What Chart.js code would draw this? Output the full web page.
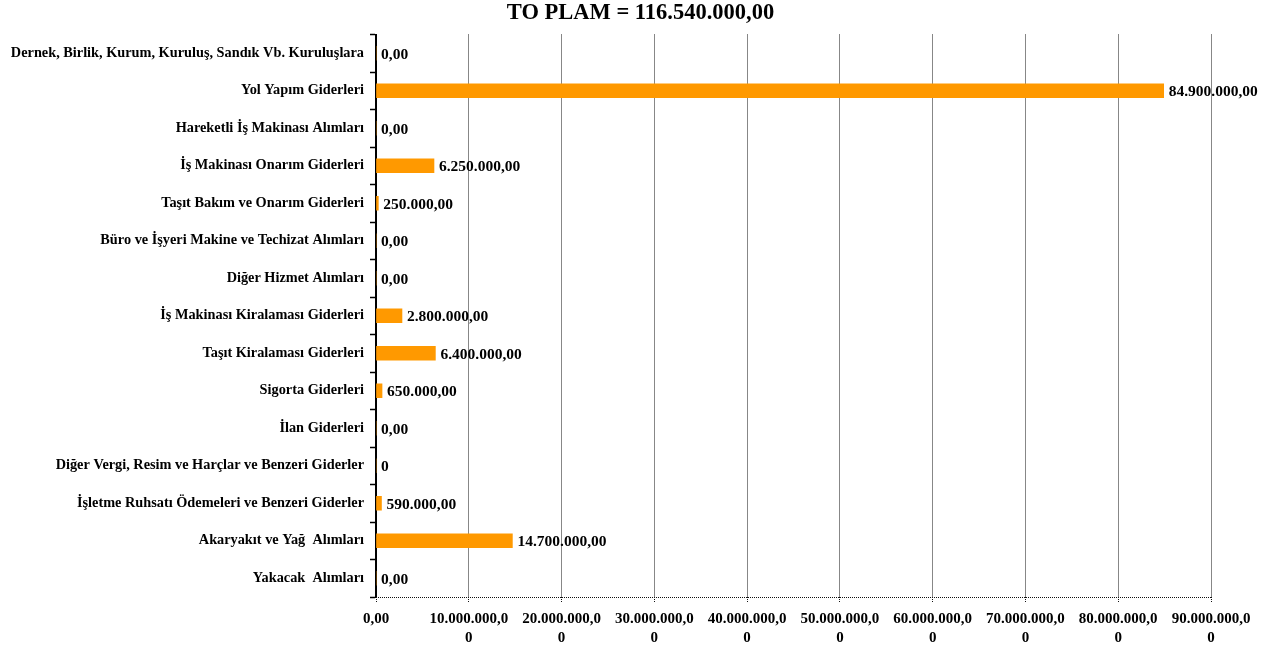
<!DOCTYPE html>
<html>
<head>
<meta charset="utf-8">
<script src="https://cdn.jsdelivr.net/npm/chart.js@4"></script>
<style>
  html, body { margin: 0; padding: 0; background: #fff; }
  canvas { display: block; }
</style>
</head>
<body>
<canvas id="giderChart" width="1281" height="650"></canvas>
<script>
const baslik = "TO PLAM = 116.540.000,00";

const kategoriler = [
  "Dernek, Birlik, Kurum, Kuruluş, Sandık Vb. Kuruluşlara",
  "Yol Yapım Giderleri",
  "Hareketli İş Makinası Alımları",
  "İş Makinası Onarım Giderleri",
  "Taşıt Bakım ve Onarım Giderleri",
  "Büro ve İşyeri Makine ve Techizat Alımları",
  "Diğer Hizmet Alımları",
  "İş Makinası Kiralaması Giderleri",
  "Taşıt Kiralaması Giderleri",
  "Sigorta Giderleri",
  "İlan Giderleri",
  "Diğer Vergi, Resim ve Harçlar ve Benzeri Giderler",
  "İşletme Ruhsatı Ödemeleri ve Benzeri Giderler",
  "Akaryakıt ve Yağ  Alımları",
  "Yakacak  Alımları"
];

const degerler = [
  0, 84900000, 0, 6250000, 250000, 0, 0, 2800000,
  6400000, 650000, 0, 0, 590000, 14700000, 0
];

const degerEtiketleri = [
  "0,00", "84.900.000,00", "0,00", "6.250.000,00", "250.000,00", "0,00", "0,00",
  "2.800.000,00", "6.400.000,00", "650.000,00", "0,00", "0", "590.000,00",
  "14.700.000,00", "0,00"
];

const xEtiketleri = [
  "0,00",
  ["10.000.000,0", "0"], ["20.000.000,0", "0"], ["30.000.000,0", "0"],
  ["40.000.000,0", "0"], ["50.000.000,0", "0"], ["60.000.000,0", "0"],
  ["70.000.000,0", "0"], ["80.000.000,0", "0"], ["90.000.000,0", "0"]
];

const FONT = "'Liberation Serif', 'Times New Roman', serif";

// Değer yazıları: ızgara çizgileri üstlerinden geçsin diye en önce çizilir
const degerYazilari = {
  id: "degerYazilari",
  beforeDraw(chart) {
    const { ctx } = chart;
    const meta = chart.getDatasetMeta(0);
    ctx.save();
    ctx.font = `bold 15.5px ${FONT}`;
    ctx.fillStyle = "#000";
    ctx.textAlign = "left";
    ctx.textBaseline = "middle";
    meta.data.forEach((bar, i) => {
      ctx.fillText(degerEtiketleri[i], bar.x + 5, bar.y + 1.5);
    });
    ctx.restore();
  }
};

// Alt eksen çizgisi noktalı
const altCizgi = {
  id: "altCizgi",
  beforeDatasetsDraw(chart) {
    const { ctx, chartArea } = chart;
    ctx.save();
    ctx.strokeStyle = "#111";
    ctx.lineWidth = 1;
    ctx.setLineDash([1, 1]);
    ctx.beginPath();
    ctx.moveTo(chartArea.left, Math.round(chartArea.bottom) + 0.5);
    ctx.lineTo(chartArea.right, Math.round(chartArea.bottom) + 0.5);
    ctx.stroke();
    ctx.restore();
  }
};

const ctx = document.getElementById("giderChart").getContext("2d");
new Chart(ctx, {
  type: "bar",
  data: {
    labels: kategoriler,
    datasets: [
      {
        data: degerler,
        backgroundColor: "#FF9900",
        borderWidth: 0,
        barThickness: 14
      }
    ]
  },
  options: {
    indexAxis: "y",
    responsive: false,
    animation: false,
    layout: { padding: 0 },
    plugins: {
      legend: { display: false },
      tooltip: { enabled: false },
      title: {
        display: true,
        text: baslik,
        color: "#000",
        font: { family: FONT, size: 22.5, weight: "bold", lineHeight: 1.2 },
        padding: { top: 0, bottom: 7.5 }
      }
    },
    scales: {
      x: {
        min: 0,
        max: 90000000,
        ticks: {
          stepSize: 10000000,
          autoSkip: false,
          maxRotation: 0,
          padding: 8,
          color: "#000",
          font: { family: FONT, size: 15, weight: "bold", lineHeight: 1.25 },
          callback: (v, i) => xEtiketleri[i]
        },
        grid: {
          color: "#111",
          lineWidth: 1,
          tickLength: 5,
          tickColor: "#111",
          tickBorderDash: [1, 1]
        },
        border: { display: false, dash: [1, 1] },
        afterFit(scale) {
          scale.height = 53;
          scale.paddingRight = 70;
        }
      },
      y: {
        ticks: {
          autoSkip: false,
          padding: 6,
          color: "#000",
          font: { family: FONT, size: 14.3, weight: "bold" }
        },
        grid: {
          drawOnChartArea: false,
          tickLength: 6,
          color: "#000",
          tickWidth: 1.5
        },
        border: { color: "#000", width: 2 },
        afterFit(scale) {
          scale.width = 376;
        }
      }
    }
  },
  plugins: [altCizgi, degerYazilari]
});
</script>
</body>
</html>
